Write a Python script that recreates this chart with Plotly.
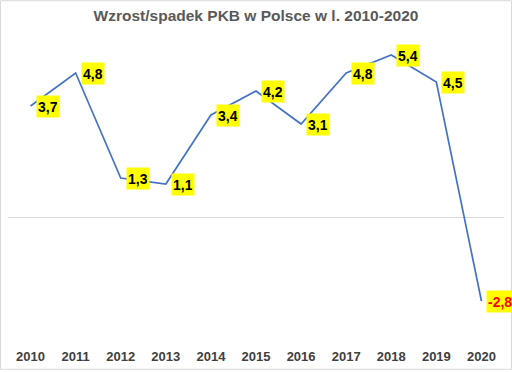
import plotly.graph_objects as go

years = [2010, 2011, 2012, 2013, 2014, 2015, 2016, 2017, 2018, 2019, 2020]
growth = [3.7, 4.8, 1.3, 1.1, 3.4, 4.2, 3.1, 4.8, 5.4, 4.5, -2.8]
labels = [f"{v:.1f}".replace(".", ",") for v in growth]

W, H = 512, 372
ml, mr, mt, mb = 8, 8, 37, 27

fig = go.Figure()
fig.add_trace(go.Scatter(x=years, y=growth, mode="lines",
                         line=dict(color="#4472C4", width=1.7),
                         hoverinfo="skip", showlegend=False))

for x, y, t in zip(years, growth, labels):
    fig.add_annotation(x=x, y=y, text=f"<b>{t}</b>", showarrow=False,
                       xanchor="left", yanchor="middle", xshift=5,
                       bgcolor="#FFFF00", borderpad=1, height=19,
                       font=dict(family="Liberation Sans, Arial", size=14,
                                 color="#FF0000" if y < 0 else "#000000"))

pw = W - ml - mr
ph = H - mt - mb
fig.add_shape(type="rect", xref="paper", yref="paper",
              x0=(0.5 - ml) / pw, x1=1 + (mr - 0.5) / pw,
              y0=-(mb - 0.5) / ph, y1=1 + (mt - 0.5) / ph,
              line=dict(color="#D9D9D9", width=1), layer="below")

fig.update_layout(
    width=W, height=H,
    margin=dict(l=ml, r=mr, t=mt, b=mb),
    paper_bgcolor="white", plot_bgcolor="white",
    title=dict(text="<b>Wzrost/spadek PKB w Polsce w l. 2010-2020</b>",
               x=0.5, xanchor="center", y=1 - 16 / H, yanchor="middle",
               font=dict(family="Liberation Sans, Arial", size=15.5, color="#595959")),
    xaxis=dict(range=[2009.5, 2020.5], tickmode="array", tickvals=years,
               ticktext=[f"<b>{y}</b>" for y in years], showgrid=False,
               zeroline=False, showline=False, ticks="", ticklabelstandoff=4,
               tickfont=dict(family="Liberation Sans, Arial", size=13, color="#404040")),
    yaxis=dict(range=[-4.2, 6.0], showticklabels=False, showgrid=False,
               zeroline=True, zerolinecolor="#D9D9D9", zerolinewidth=1,
               showline=False, ticks=""),
)

fig.write_html("out.html", config={"displayModeBar": False},
               post_script="document.body.style.margin='0';document.body.style.overflow='hidden';")
